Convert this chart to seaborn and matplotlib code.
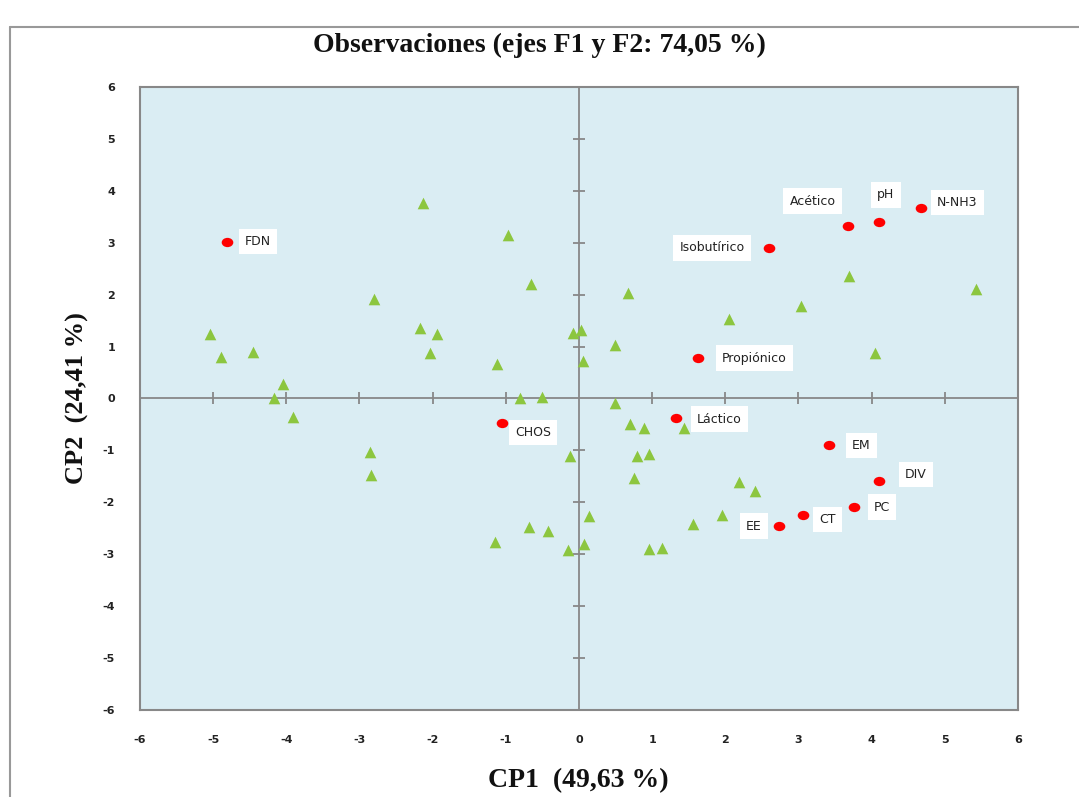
import matplotlib
matplotlib.use("Agg")
import matplotlib.pyplot as plt
import seaborn as sns
import numpy as np
import pandas as pd
from matplotlib.path import Path
from matplotlib.transforms import Affine2D

obs_x = [-2.13, -0.97, -0.65, -2.80, -5.04, -4.89, -4.46, -2.17, -1.94, -2.04,
         -1.12, -0.08, 0.03, 0.06, -4.05, -4.17, -0.80, -0.51, -3.91, -2.86,
         -2.84, -1.15, -0.68, -0.42, -0.15, -0.12, 0.13, 0.07, 0.67, 3.69,
         5.42, 3.03, 2.05, 0.49, 4.04, 0.49, 0.70, 0.89, 1.43, 0.79,
         0.95, 0.75, 2.18, 2.41, 1.95, 1.56, 0.95, 1.13]
obs_y = [3.76, 3.14, 2.21, 1.92, 1.25, 0.80, 0.90, 1.35, 1.25, 0.87,
         0.66, 1.26, 1.31, 0.73, 0.27, 0.00, 0.00, 0.03, -0.36, -1.04,
         -1.48, -2.77, -2.48, -2.56, -2.92, -1.10, -2.26, -2.81, 2.04, 2.35,
         2.11, 1.78, 1.54, 1.04, 0.87, -0.08, -0.50, -0.56, -0.57, -1.10,
         -1.07, -1.53, -1.60, -1.79, -2.24, -2.41, -2.89, -2.87]

# Variables (red dots)
var_names = ["FDN", "CHOS", "Acético", "pH", "N-NH3", "Isobutírico", "Propiónico",
             "Láctico", "EM", "DIV", "PC", "CT", "EE"]
var_x = [-4.81, -1.05, 3.67, 4.10, 4.68, 2.60, 1.63, 1.33, 3.42, 4.10, 3.76, 3.06, 2.73]
var_y = [3.02, -0.48, 3.32, 3.40, 3.66, 2.90, 0.78, -0.38, -0.89, -1.58, -2.09, -2.25, -2.46]

ticks = np.arange(-6, 7)

# label offsets in pixels (layout only)
label_offsets = [(31, 0), (31, -9), (-35, 25), (7, 27), (36, 6), (-57, 0), (56, 0),
                 (43, -1), (32, -1), (37, 6), (28, 0), (25, -4), (-25, 0)]

obs = pd.DataFrame({"x": obs_x, "y": obs_y})
var = pd.DataFrame({"x": var_x, "y": var_y, "name": var_names})

sns.set_style("white")
plt.rcParams['font.family'] = ['DejaVu Sans']
plt.rcParams['axes.unicode_minus'] = False

fig = plt.figure(figsize=(10.79, 7.97), dpi=100)
ax = fig.add_axes([140 / 1079, 1 - 710 / 797, 878 / 1079, 623 / 797])
ax.set_facecolor("#daedf3")

grey = "#888888"
ax.axhline(0, color=grey, lw=1.3, zorder=1)
ax.axvline(0, color=grey, lw=1.3, zorder=1)
inner = ticks[(ticks != 0) & (np.abs(ticks) < 6)]
ax.plot(inner, np.zeros(len(inner)), ls="none", marker="|", ms=9, mew=1.3, color=grey, zorder=1)
ax.plot(np.zeros(len(inner)), inner, ls="none", marker="_", ms=9, mew=1.3, color=grey, zorder=1)

ellipse = Path.unit_circle().transformed(Affine2D().scale(1.25, 1.0))

sns.scatterplot(data=obs, x="x", y="y", marker="^", s=70, color="#8cc63f",
                linewidth=0, ax=ax, zorder=3)
sns.scatterplot(data=var, x="x", y="y", marker=ellipse, s=70, color="#ff0000",
                linewidth=0, ax=ax, zorder=4)

for name, x, y, off in zip(var_names, var_x, var_y, label_offsets):
    ax.annotate(name, (x, y), xytext=off, textcoords="offset pixels",
                ha="center", va="center", fontsize=9, color="#222222",
                bbox=dict(boxstyle="square,pad=0.5", fc="white", ec="none"),
                zorder=5)

ax.set_xlim(-6, 6)
ax.set_ylim(-6, 6)
ax.set_xticks(ticks)
ax.set_yticks(ticks)
ax.tick_params(length=0, labelsize=8, pad=18, colors="#222222")
for lab in ax.get_xticklabels() + ax.get_yticklabels():
    lab.set_fontweight("bold")
for s in ax.spines.values():
    s.set_color(grey)
    s.set_linewidth(1.5)
ax.set_xlabel("")
ax.set_ylabel("")

serif = dict(family="Liberation Serif", weight="bold", color="#111111")
fig.text(539 / 1079, 1 - 45 / 797, "Observaciones (ejes F1 y F2: 74,05 %)",
         ha="center", va="center", fontsize=20, **serif)
fig.text(578 / 1079, 1 - 781 / 797, "CP1  (49,63 %)",
         ha="center", va="center", fontsize=20, **serif)
fig.text(77 / 1079, 1 - 398 / 797, "CP2  (24,41 %)", rotation=90,
         ha="center", va="center", fontsize=19, **serif)

# outer chart frame (left and top edges visible)
fig.add_artist(plt.Line2D([10 / 1079, 10 / 1079], [0, 1 - 27 / 797], color="#999999", lw=1.5))
fig.add_artist(plt.Line2D([10 / 1079, 1], [1 - 27 / 797, 1 - 27 / 797], color="#999999", lw=1.5))

fig.savefig("out.png", dpi=100)
